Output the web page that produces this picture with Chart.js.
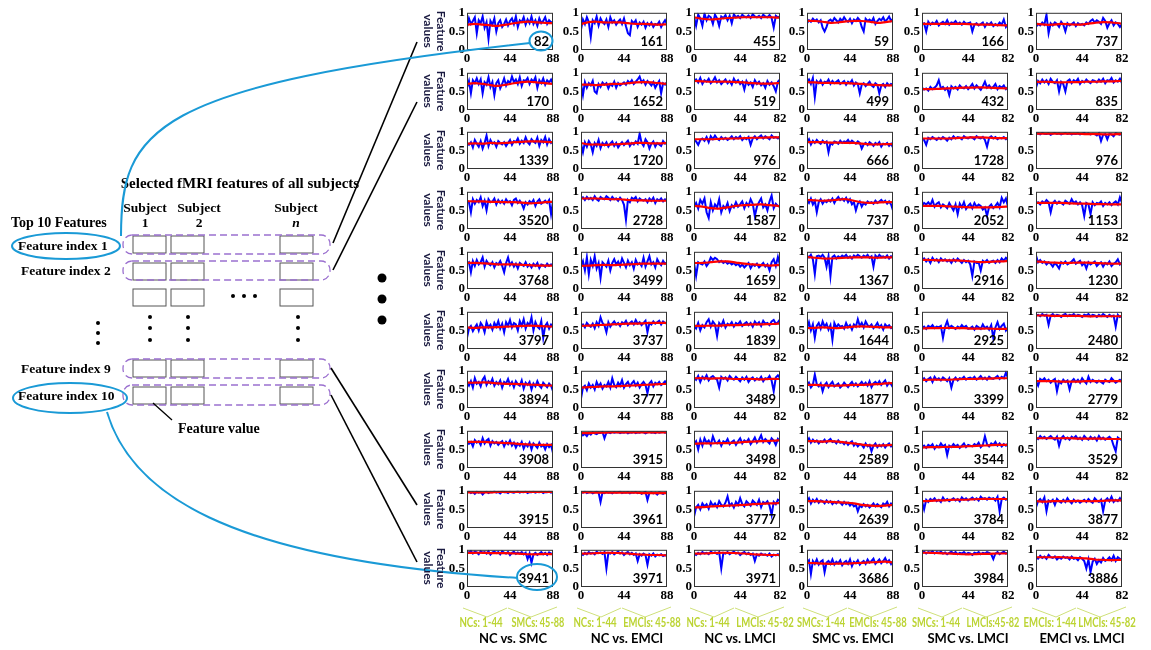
<!DOCTYPE html>
<html>
<head>
<meta charset="utf-8">
<script src="https://cdn.jsdelivr.net/npm/chart.js@4.4.0/dist/chart.umd.min.js"></script>
<style>
body { margin: 0; background: #fff; width: 1151px; height: 650px; overflow: hidden; position: relative; }
#charts canvas { position: absolute; }
#overlay { position: absolute; left: 0; top: 0; pointer-events: none; }
</style>
</head>
<body>
<div id="charts"></div>
<svg id="overlay" width="1151" height="650" xmlns="http://www.w3.org/2000/svg">
  <!-- left diagram -->
  <g font-family="Liberation Serif" font-weight="bold" fill="#000">
    <text x="240" y="188" font-size="15" text-anchor="middle">Selected fMRI features of all subjects</text>
    <text x="145" y="212" font-size="13.5" text-anchor="middle">Subject</text>
    <text x="145" y="227" font-size="13.5" text-anchor="middle">1</text>
    <text x="199" y="212" font-size="13.5" text-anchor="middle">Subject</text>
    <text x="199" y="227" font-size="13.5" text-anchor="middle">2</text>
    <text x="296" y="212" font-size="13.5" text-anchor="middle">Subject</text>
    <text x="296" y="227" font-size="13.5" text-anchor="middle" font-style="italic">n</text>
    <text x="11" y="227" font-size="14">Top 10 Features</text>
    <text x="18" y="250" font-size="13.5">Feature index 1</text>
    <text x="21" y="275" font-size="13.5">Feature index 2</text>
    <text x="21" y="373" font-size="13.5">Feature index 9</text>
    <text x="18" y="400" font-size="13.5">Feature index 10</text>
    <text x="178" y="433" font-size="14">Feature value</text>
  </g>
  <g fill="none" stroke="#555" stroke-width="1">
    <rect x="133" y="236" width="33" height="17"/><rect x="171" y="236" width="33" height="17"/><rect x="280" y="236" width="33" height="17"/>
    <rect x="133" y="263" width="33" height="17"/><rect x="171" y="263" width="33" height="17"/><rect x="280" y="263" width="33" height="17"/>
    <rect x="133" y="289" width="33" height="17"/><rect x="171" y="289" width="33" height="17"/><rect x="280" y="289" width="33" height="17"/>
    <rect x="133" y="360" width="33" height="17"/><rect x="171" y="360" width="33" height="17"/><rect x="280" y="360" width="33" height="17"/>
    <rect x="133" y="387" width="33" height="17"/><rect x="171" y="387" width="33" height="17"/><rect x="280" y="387" width="33" height="17"/>
  </g>
  <g fill="none" stroke="#9b70cf" stroke-width="1.3" stroke-dasharray="7,4">
    <rect x="123" y="235" width="207" height="19" rx="9"/>
    <rect x="123" y="261" width="207" height="19" rx="9"/>
    <rect x="123" y="359" width="207" height="19" rx="9"/>
    <rect x="123" y="385" width="207" height="20" rx="9"/>
  </g>
  <g fill="#000">
    <circle cx="233" cy="296" r="2"/><circle cx="244" cy="296" r="2"/><circle cx="255" cy="296" r="2"/>
    <circle cx="98" cy="323" r="2"/><circle cx="98" cy="333" r="2"/><circle cx="98" cy="343" r="2"/>
    <circle cx="150" cy="317" r="2"/><circle cx="150" cy="328" r="2"/><circle cx="150" cy="340" r="2"/>
    <circle cx="188" cy="317" r="2"/><circle cx="188" cy="328" r="2"/><circle cx="188" cy="340" r="2"/>
    <circle cx="298" cy="317" r="2"/><circle cx="298" cy="328" r="2"/><circle cx="298" cy="340" r="2"/>
    <circle cx="382" cy="278" r="4.5"/><circle cx="382" cy="299" r="4.5"/><circle cx="382" cy="320" r="4.5"/>
  </g>
  <g stroke="#000" stroke-width="1.6">
    <line x1="333" y1="243" x2="417" y2="42"/>
    <line x1="333" y1="270" x2="417" y2="102"/>
    <line x1="331" y1="368" x2="417" y2="505"/>
    <line x1="331" y1="395" x2="417" y2="562"/>
    <line x1="153" y1="403" x2="172" y2="420" stroke-width="1.3"/>
  </g>
  <g fill="none" stroke="#1a9ad6" stroke-width="2">
    <ellipse cx="66" cy="246" rx="54" ry="13"/>
    <ellipse cx="70" cy="398" rx="57" ry="15"/>
    <path d="M121,236 C121,130 150,85 530,43"/>
    <path d="M107,412 C130,490 220,560 518,578"/>
    <ellipse cx="541" cy="41" rx="11.5" ry="9.5"/>
    <ellipse cx="537" cy="577" rx="20" ry="13"/>
  </g>
  <g id="dyn"></g>
</svg>
<script>
// group (column) settings
const columnTitles = ['NC vs. SMC', 'NC vs. EMCI', 'NC vs. LMCI', 'SMC vs. EMCI', 'SMC vs. LMCI', 'EMCI vs. LMCI'];
const groupLabels = [
  ['NCs: 1-44', 'SMCs: 45-88'],
  ['NCs: 1-44', 'EMCIs: 45-88'],
  ['NCs: 1-44', 'LMCIs: 45-82'],
  ['SMCs: 1-44', 'EMCIs: 45-88'],
  ['SMCs: 1-44', 'LMCIs:45-82'],
  ['EMCIs: 1-44', 'LMCIs: 45-82']
];
const subjectCounts = [88, 88, 82, 88, 82, 82];
const featureIndex = [
  [82, 170, 1339, 3520, 3768, 3797, 3894, 3908, 3915, 3941],
  [161, 1652, 1720, 2728, 3499, 3737, 3777, 3915, 3961, 3971],
  [455, 519, 976, 1587, 1659, 1839, 3489, 3498, 3777, 3971],
  [59, 499, 666, 737, 1367, 1644, 1877, 2589, 2639, 3686],
  [166, 432, 1728, 2052, 2916, 2925, 3399, 3544, 3784, 3984],
  [737, 835, 976, 1153, 1230, 2480, 2779, 3529, 3877, 3886]
];

// feature values (blue), every 2nd subject
const blueNCvsSMC = [
  [.62,.85,.70,.78,.88,.45,.80,.72,.90,.60,.75,.30,.78,.68,.85,.50,.72,.80,.62,.70,.82,.66,.78,.85,.70,.90,.62,.80,.75,.88,.68,.82,.72,.90,.70,.80,.65,.85,.72,.78,.88,.70,.80,.75,.72],
  [.60,.78,.45,.80,.72,.85,.70,.82,.45,.75,.68,.88,.62,.75,.40,.72,.80,.58,.70,.85,.66,.78,.72,.90,.75,.82,.70,.88,.65,.80,.78,.86,.70,.82,.76,.88,.60,.80,.72,.85,.68,.80,.74,.82,.70],
  [.70,.65,.72,.58,.78,.68,.60,.75,.55,.70,.90,.62,.78,.68,.72,.60,.75,.70,.66,.72,.62,.70,.78,.65,.75,.72,.82,.68,.76,.70,.85,.72,.66,.80,.74,.70,.84,.62,.78,.72,.86,.66,.80,.70,.75],
  [.75,.72,.45,.80,.68,.78,.72,.85,.62,.76,.50,.80,.72,.74,.82,.66,.78,.70,.76,.68,.80,.72,.75,.64,.78,.82,.70,.76,.68,.55,.72,.66,.75,.70,.78,.62,.74,.80,.68,.72,.76,.70,.78,.40,.74],
  [.68,.72,.45,.75,.62,.78,.66,.72,.85,.60,.76,.68,.64,.72,.58,.70,.66,.75,.62,.45,.70,.85,.64,.72,.60,.68,.55,.70,.66,.62,.72,.60,.66,.58,.68,.62,.70,.56,.66,.64,.60,.68,.62,.66,.64],
  [.30,.55,.62,.48,.58,.66,.50,.70,.62,.45,.72,.58,.65,.52,.70,.60,.75,.55,.68,.45,.72,.62,.78,.58,.70,.66,.50,.75,.62,.80,.55,.70,.64,.85,.50,.72,.60,.55,.75,.30,.62,.70,.55,.66,.60],
  [.68,.60,.72,.55,.80,.65,.70,.58,.76,.84,.62,.72,.66,.78,.60,.70,.64,.74,.55,.70,.66,.78,.62,.70,.56,.72,.64,.60,.74,.52,.68,.62,.70,.50,.66,.58,.72,.60,.54,.68,.62,.56,.66,.60,.45],
  [.72,.65,.70,.58,.75,.68,.72,.62,.80,.66,.74,.78,.60,.72,.66,.70,.62,.68,.72,.58,.70,.64,.74,.60,.68,.55,.66,.60,.70,.52,.64,.58,.68,.50,.66,.60,.54,.68,.58,.62,.50,.64,.56,.62,.40],
  [.96,.98,.94,.97,.92,.98,.95,.97,.90,.96,.98,.94,.97,.96,.99,.95,.97,.93,.98,.96,.97,.94,.98,.96,.95,.97,.99,.95,.97,.96,.98,.94,.97,.96,.98,.95,.97,.96,.98,.94,.97,.96,.98,.95,.97],
  [.95,.92,.97,.90,.95,.93,.88,.96,.92,.94,.90,.96,.87,.93,.95,.91,.94,.88,.96,.92,.90,.94,.86,.92,.95,.89,.93,.90,.94,.88,.92,.75,.90,.65,.88,.92,.86,.90,.94,.88,.92,.86,.93,.90,.88]
];
const blueNCvsEMCI = [
  [.55,.82,.70,.88,.75,.35,.80,.72,.90,.66,.85,.75,.70,.82,.62,.88,.74,.80,.68,.76,.82,.70,.85,.64,.45,.40,.78,.72,.80,.62,.74,.68,.76,.60,.72,.66,.74,.62,.70,.68,.76,.62,.72,.80,.70],
  [.70,.40,.75,.60,.72,.66,.78,.50,.45,.70,.62,.74,.68,.72,.58,.70,.65,.76,.60,.72,.66,.70,.74,.68,.78,.72,.80,.70,.76,.82,.90,.74,.80,.68,.78,.72,.66,.75,.60,.70,.78,.45,.72,.68,.75],
  [.68,.45,.72,.60,.75,.66,.45,.70,.62,.78,.56,.70,.64,.72,.60,.68,.74,.62,.70,.58,.66,.72,.64,.70,.76,.62,.70,.66,.74,.68,.95,.70,.62,.80,.72,.55,.68,.74,.60,.70,.66,.62,.75,.68,.72],
  [.82,.85,.78,.86,.80,.84,.78,.88,.80,.76,.86,.82,.80,.88,.84,.78,.86,.80,.82,.76,.84,.78,.65,.25,.78,.72,.84,.80,.86,.74,.82,.78,.76,.80,.72,.82,.76,.84,.70,.80,.76,.82,.74,.80,.76],
  [.62,.75,.50,.85,.40,.78,.62,.88,.55,.70,.30,.72,.66,.60,.76,.50,.70,.80,.66,.74,.62,.82,.70,.58,.76,.64,.72,.55,.78,.66,.70,.62,.84,.60,.74,.88,.66,.72,.58,.80,.70,.64,.76,.68,.72],
  [.62,.66,.58,.70,.64,.60,.68,.56,.72,.62,.85,.70,.64,.45,.72,.60,.68,.74,.66,.70,.62,.72,.68,.76,.64,.70,.74,.66,.78,.68,.72,.64,.70,.76,.45,.70,.66,.74,.68,.72,.76,.66,.74,.70,.68],
  [.25,.55,.60,.48,.66,.55,.62,.50,.70,.58,.66,.52,.62,.58,.70,.55,.80,.62,.56,.68,.60,.75,.55,.64,.70,.58,.66,.72,.60,.68,.55,.64,.70,.62,.40,.66,.72,.58,.68,.64,.70,.62,.66,.72,.65],
  [.95,.88,.92,.86,.94,.90,.96,.93,.91,.95,.94,.97,.80,.95,.96,.94,.97,.95,.96,.97,.94,.96,.95,.97,.93,.96,.95,.97,.94,.96,.95,.97,.96,.93,.96,.97,.95,.96,.94,.97,.95,.96,.97,.95,.96],
  [.97,.95,.98,.94,.96,.97,.93,.96,.98,.95,.70,.96,.94,.97,.95,.96,.93,.97,.95,.96,.98,.94,.96,.95,.97,.93,.96,.95,.97,.94,.96,.92,.95,.97,.75,.94,.96,.93,.95,.90,.96,.94,.92,.95,.93],
  [.90,.86,.92,.88,.94,.90,.92,.88,.95,.91,.93,.89,.94,.50,.92,.90,.94,.88,.92,.95,.90,.93,.86,.91,.94,.88,.92,.86,.90,.70,.88,.84,.90,.86,.60,.88,.84,.90,.82,.87,.85,.88,.83,.86,.84]
];
const blueNCvsLMCI = [
  [.90,.65,.95,.85,.65,.98,.80,.92,.88,.70,.95,.85,.65,.90,.86,.94,.80,.92,.72,.96,.88,.92,.86,.95,.90,.88,.93,.86,.96,.90,.88,.92,.86,.95,.90,.88,.94,.86,.60,.92,.88,.90],
  [.78,.82,.74,.86,.70,.80,.76,.84,.72,.78,.88,.74,.80,.70,.76,.82,.72,.78,.68,.84,.74,.80,.70,.76,.55,.78,.68,.74,.62,.80,.70,.76,.66,.72,.60,.78,.68,.74,.64,.50,.76,.82],
  [.80,.74,.65,.78,.82,.76,.86,.72,.88,.80,.90,.82,.78,.86,.80,.84,.78,.82,.88,.80,.86,.82,.88,.78,.84,.80,.86,.65,.82,.88,.80,.86,.90,.82,.88,.84,.80,.90,.84,.86,.82,.88],
  [.60,.70,.55,.78,.68,.82,.45,.30,.72,.50,.66,.58,.80,.45,.62,.55,.70,.48,.64,.58,.72,.60,.66,.74,.56,.70,.62,.80,.68,.35,.60,.72,.82,.58,.66,.50,.74,.90,.56,.68,.62,.60],
  [.70,.35,.72,.68,.66,.74,.62,.70,.85,.78,.84,.80,.72,.76,.70,.74,.68,.72,.66,.70,.64,.68,.60,.66,.58,.64,.70,.56,.66,.62,.68,.58,.64,.70,.60,.66,.50,.72,.80,.62,.86,.64],
  [.62,.55,.70,.50,.64,.58,.72,.80,.60,.74,.66,.35,.70,.62,.76,.58,.68,.64,.72,.60,.70,.66,.74,.62,.68,.72,.64,.70,.60,.74,.66,.72,.62,.76,.68,.70,.64,.74,.78,.68,.72,.80],
  [.82,.76,.86,.70,.84,.78,.88,.74,.82,.86,.80,.76,.55,.84,.78,.82,.74,.86,.80,.76,.84,.78,.72,.82,.76,.84,.70,.78,.82,.74,.80,.76,.84,.72,.80,.78,.86,.74,.45,.82,.88,.80],
  [.65,.72,.50,.76,.60,.80,.68,.74,.62,.85,.70,.66,.74,.60,.72,.68,.78,.64,.70,.74,.62,.72,.80,.66,.74,.70,.78,.64,.72,.82,.68,.76,.88,.70,.78,.72,.66,.80,.74,.62,.78,.72],
  [.30,.55,.62,.50,.66,.58,.64,.52,.70,.60,.66,.56,.72,.62,.58,.68,.85,.60,.66,.55,.70,.62,.80,.64,.58,.72,.66,.60,.74,.68,.62,.76,.56,.70,.66,.72,.60,.35,.70,.64,.76,.72],
  [.90,.86,.92,.88,.94,.90,.92,.88,.95,.91,.93,.89,.94,.50,.92,.90,.94,.88,.92,.95,.90,.93,.86,.91,.94,.88,.92,.86,.90,.70,.88,.84,.90,.86,.88,.84,.90,.82,.87,.85,.88,.83]
];
const blueSMCvsEMCI = [
  [.72,.80,.76,.84,.78,.82,.74,.80,.60,.50,.62,.78,.82,.76,.86,.80,.74,.84,.78,.88,.80,.76,.84,.72,.82,.78,.86,.80,.62,.50,.84,.78,.82,.76,.86,.70,.78,.84,.80,.88,.76,.82,.90,.78,.84],
  [.75,.82,.70,.86,.35,.78,.72,.80,.68,.76,.74,.82,.70,.78,.72,.76,.80,.70,.74,.78,.68,.76,.72,.80,.66,.74,.70,.45,.68,.72,.64,.70,.76,.66,.62,.72,.68,.45,.66,.70,.62,.72,.66,.70,.68],
  [.72,.80,.66,.76,.70,.78,.72,.68,.76,.70,.74,.45,.70,.66,.74,.72,.68,.76,.70,.74,.72,.78,.70,.76,.72,.68,.74,.70,.55,.66,.70,.64,.72,.68,.62,.70,.66,.72,.60,.68,.66,.70,.62,.68,.58],
  [.78,.70,.82,.66,.76,.45,.72,.80,.68,.76,.72,.78,.74,.82,.70,.80,.86,.78,.82,.76,.84,.72,.80,.66,.72,.50,.68,.74,.60,.70,.66,.74,.70,.72,.68,.76,.70,.74,.78,.72,.76,.68,.74,.66,.50],
  [.90,.85,.92,.80,.40,.88,.90,.86,.92,.84,.60,.88,.35,.86,.90,.82,.88,.84,.90,.86,.92,.84,.88,.82,.90,.86,.92,.88,.84,.90,.86,.92,.84,.88,.60,.90,.84,.92,.86,.88,.84,.90,.82,.88,.86],
  [.55,.72,.50,.66,.30,.62,.70,.55,.74,.60,.68,.52,.64,.25,.70,.58,.66,.60,.62,.55,.70,.58,.64,.52,.66,.60,.80,.62,.70,.58,.74,.64,.60,.66,.56,.62,.70,.58,.64,.52,.66,.60,.64,.56,.60],
  [.60,.68,.55,.62,.90,.64,.58,.66,.45,.62,.68,.56,.64,.70,.58,.62,.66,.55,.60,.68,.62,.56,.64,.70,.60,.66,.58,.64,.70,.62,.68,.60,.72,.56,.66,.70,.64,.72,.62,.68,.74,.60,.68,.64,.55],
  [.72,.80,.68,.76,.70,.74,.66,.72,.70,.76,.68,.74,.78,.70,.72,.66,.74,.68,.70,.64,.70,.62,.68,.72,.60,.66,.58,.64,.62,.55,.66,.58,.62,.45,.60,.66,.56,.62,.58,.64,.55,.62,.66,.58,.64],
  [.72,.80,.66,.76,.70,.78,.68,.74,.72,.66,.74,.68,.72,.64,.70,.66,.72,.68,.62,.70,.64,.68,.60,.66,.58,.62,.45,.60,.56,.64,.58,.62,.55,.60,.66,.58,.64,.60,.56,.66,.62,.70,.58,.66,.62],
  [.66,.72,.35,.70,.62,.74,.60,.68,.72,.40,.66,.70,.62,.74,.60,.68,.64,.72,.58,.66,.70,.62,.74,.56,.68,.64,.72,.60,.66,.70,.62,.74,.66,.70,.76,.62,.68,.74,.64,.70,.78,.66,.72,.62,.70]
];
const blueSMCvsLMCI = [
  [.70,.72,.50,.76,.68,.74,.70,.78,.66,.72,.76,.70,.80,.68,.74,.72,.78,.70,.74,.68,.76,.70,.72,.74,.50,.68,.72,.66,.70,.74,.62,.72,.68,.74,.64,.70,.66,.74,.68,.82,.62,.70],
  [.60,.55,.58,.52,.62,.56,.60,.66,.80,.58,.62,.54,.60,.40,.64,.58,.62,.55,.66,.60,.58,.64,.56,.62,.70,.58,.66,.60,.54,.64,.76,.60,.66,.58,.62,.70,.56,.64,.60,.66,.56,.62],
  [.82,.78,.65,.84,.80,.86,.82,.78,.84,.80,.86,.82,.76,.84,.80,.88,.82,.86,.84,.80,.88,.84,.82,.86,.84,.80,.88,.84,.82,.86,.78,.60,.84,.88,.82,.86,.80,.84,.82,.86,.80,.84],
  [.62,.70,.66,.72,.64,.78,.60,.68,.72,.58,.66,.62,.56,.70,.60,.50,.66,.40,.68,.58,.72,.54,.62,.68,.56,.70,.60,.66,.62,.52,.58,.35,.60,.66,.56,.62,.70,.58,.84,.72,.82,.60],
  [.78,.82,.74,.80,.70,.84,.76,.80,.72,.82,.76,.80,.74,.78,.70,.80,.74,.82,.76,.70,.78,.72,.76,.66,.35,.74,.70,.72,.50,.76,.72,.78,.70,.74,.76,.70,.78,.72,.82,.76,.84,.78],
  [.56,.60,.54,.62,.58,.64,.56,.60,.58,.62,.30,.60,.75,.56,.62,.58,.54,.60,.56,.64,.58,.62,.54,.56,.60,.52,.62,.58,.54,.66,.56,.60,.52,.64,.30,.58,.72,.54,.62,.68,.50,.58],
  [.75,.80,.72,.78,.82,.70,.84,.76,.80,.74,.82,.78,.72,.80,.55,.76,.82,.74,.80,.78,.84,.76,.80,.82,.78,.84,.76,.80,.86,.78,.82,.76,.84,.80,.78,.82,.86,.78,.84,.80,.95,.80],
  [.56,.60,.54,.62,.58,.64,.52,.60,.56,.66,.58,.62,.35,.60,.56,.64,.58,.62,.54,.60,.66,.56,.62,.60,.58,.64,.60,.68,.56,.62,.85,.64,.58,.66,.62,.70,.60,.66,.58,.64,.60,.66],
  [.72,.50,.76,.70,.78,.74,.80,.72,.76,.70,.82,.74,.78,.72,.76,.80,.74,.78,.72,.82,.76,.80,.74,.78,.82,.76,.80,.74,.84,.78,.80,.76,.82,.78,.80,.74,.84,.45,.78,.82,.76,.80],
  [.92,.95,.90,.94,.92,.96,.90,.94,.92,.95,.90,.93,.88,.92,.95,.90,.94,.88,.92,.90,.94,.88,.92,.90,.86,.92,.90,.94,.88,.92,.90,.94,.92,.88,.75,.90,.94,.88,.92,.95,.90,.92]
];
const blueEMCIvsLMCI = [
  [.62,.70,.66,.74,.68,.95,.45,.72,.66,.74,.70,.62,.76,.68,.50,.72,.66,.70,.74,.64,.72,.68,.70,.66,.74,.70,.78,.82,.74,.80,.76,.70,.86,.78,.60,.72,.80,.66,.74,.70,.62,.70],
  [.60,.78,.72,.82,.74,.80,.70,.84,.76,.72,.80,.50,.76,.70,.50,.78,.82,.72,.80,.76,.84,.70,.78,.74,.82,.76,.72,.80,.78,.74,.82,.76,.84,.72,.80,.78,.86,.74,.80,.76,.84,.72],
  [.94,.96,.93,.97,.95,.94,.96,.92,.95,.97,.94,.96,.93,.95,.97,.94,.96,.93,.95,.94,.96,.93,.95,.97,.94,.96,.93,.95,.94,.90,.96,.75,.92,.94,.80,.95,.93,.88,.96,.94,.92,.95],
  [.68,.72,.66,.74,.70,.78,.72,.45,.70,.76,.68,.74,.70,.66,.76,.72,.68,.80,.70,.74,.66,.72,.64,.35,.70,.66,.40,.72,.64,.70,.68,.74,.62,.70,.66,.72,.64,.70,.74,.66,.85,.70],
  [.90,.72,.78,.70,.74,.66,.72,.68,.60,.70,.64,.55,.72,.68,.74,.66,.70,.74,.80,.68,.72,.76,.64,.70,.55,.72,.66,.70,.74,.62,.68,.72,.60,.70,.66,.74,.62,.68,.72,.80,.66,.72],
  [.90,.92,.88,.94,.90,.92,.65,.90,.94,.88,.92,.90,.86,.92,.94,.88,.92,.90,.94,.88,.92,.90,.86,.92,.90,.94,.88,.92,.90,.86,.92,.88,.94,.90,.86,.92,.88,.90,.60,.92,.86,.90],
  [.72,.60,.78,.74,.80,.72,.76,.68,.74,.78,.45,.72,.66,.76,.70,.74,.50,.72,.78,.70,.76,.68,.80,.72,.66,.84,.70,.76,.72,.68,.74,.70,.66,.76,.72,.70,.80,.74,.68,.72,.76,.70],
  [.82,.78,.86,.80,.84,.78,.82,.86,.80,.76,.84,.60,.80,.86,.78,.82,.76,.84,.80,.86,.78,.82,.76,.86,.80,.76,.84,.78,.82,.74,.86,.78,.82,.76,.80,.84,.78,.60,.45,.82,.78,.74],
  [.55,.72,.78,.70,.82,.45,.74,.70,.76,.62,.78,.72,.68,.76,.70,.80,.72,.66,.76,.70,.74,.68,.72,.76,.70,.78,.72,.68,.80,.74,.70,.76,.45,.74,.80,.72,.84,.70,.76,.72,.80,.70],
  [.80,.76,.84,.78,.82,.76,.86,.80,.78,.82,.74,.80,.76,.82,.78,.80,.74,.82,.76,.78,.72,.80,.76,.70,.50,.74,.40,.68,.76,.62,.72,.66,.78,.70,.74,.80,.72,.84,.70,.80,.76,.72]
];

// smoothed values (red), every 8th subject
const redNCvsSMC = [
  [.68,.70,.68,.66,.65,.68,.72,.75,.76,.74,.73,.72],
  [.70,.72,.70,.67,.65,.68,.72,.75,.76,.74,.72,.70],
  [.68,.69,.68,.70,.69,.70,.72,.73,.74,.74,.73,.72],
  [.75,.74,.74,.73,.73,.72,.72,.71,.69,.70,.72,.73],
  [.70,.70,.69,.68,.66,.66,.66,.65,.64,.63,.63,.63],
  [.58,.57,.58,.58,.59,.60,.61,.62,.63,.62,.61,.60],
  [.68,.68,.69,.68,.66,.65,.65,.64,.63,.62,.61,.60],
  [.70,.70,.70,.69,.68,.67,.66,.64,.63,.62,.62,.62],
  [.96,.96,.96,.96,.97,.97,.97,.97,.97,.97,.97,.97],
  [.92,.92,.92,.91,.91,.91,.90,.89,.88,.88,.89,.88]
];
const redNCvsEMCI = [
  [.70,.75,.76,.74,.74,.74,.72,.70,.70,.69,.68,.69],
  [.68,.68,.67,.68,.70,.70,.72,.74,.75,.74,.72,.70],
  [.70,.66,.66,.65,.66,.67,.68,.70,.70,.69,.69,.70],
  [.82,.82,.82,.81,.80,.80,.78,.77,.77,.76,.76,.76],
  [.62,.63,.64,.65,.64,.65,.66,.67,.68,.68,.68,.68],
  [.62,.63,.64,.65,.66,.67,.68,.68,.69,.70,.70,.70],
  [.55,.56,.57,.58,.58,.59,.60,.61,.62,.63,.64,.65],
  [.94,.94,.95,.95,.96,.96,.96,.96,.96,.96,.96,.96],
  [.96,.96,.95,.95,.95,.95,.95,.95,.94,.94,.94,.94],
  [.90,.90,.91,.92,.92,.91,.90,.88,.87,.86,.86,.85]
];
const redNCvsLMCI = [
  [.88,.84,.82,.84,.86,.87,.88,.88,.88,.88,.87,.88],
  [.78,.77,.76,.76,.76,.75,.74,.72,.71,.71,.72,.72],
  [.80,.80,.80,.81,.82,.82,.83,.84,.84,.85,.85,.85],
  [.62,.60,.56,.55,.58,.62,.64,.65,.66,.64,.62,.60],
  [.70,.70,.72,.74,.74,.71,.68,.66,.64,.63,.64,.65],
  [.62,.62,.63,.63,.64,.64,.65,.66,.66,.67,.68,.70],
  [.80,.80,.79,.80,.79,.78,.78,.78,.77,.78,.78,.78],
  [.65,.66,.66,.67,.67,.68,.70,.71,.72,.73,.74,.75],
  [.55,.56,.58,.59,.60,.61,.62,.64,.65,.66,.67,.68],
  [.90,.90,.91,.92,.92,.91,.90,.88,.87,.86,.86,.85]
];
const redSMCvsEMCI = [
  [.78,.78,.76,.73,.74,.77,.78,.78,.76,.73,.75,.78],
  [.75,.74,.73,.73,.72,.72,.71,.70,.68,.67,.66,.66],
  [.72,.72,.72,.71,.71,.70,.70,.68,.66,.66,.67,.67],
  [.78,.77,.76,.77,.79,.80,.76,.72,.70,.71,.72,.72],
  [.86,.84,.82,.82,.83,.84,.85,.85,.85,.84,.85,.85],
  [.56,.57,.58,.57,.56,.58,.60,.61,.60,.59,.58,.58],
  [.62,.62,.61,.60,.60,.61,.62,.62,.63,.64,.66,.67],
  [.72,.72,.71,.72,.71,.68,.66,.63,.61,.60,.61,.62],
  [.72,.72,.71,.70,.69,.68,.66,.62,.60,.59,.60,.62],
  [.65,.64,.63,.62,.63,.63,.64,.65,.66,.67,.68,.66]
];
const redSMCvsLMCI = [
  [.70,.70,.70,.70,.70,.70,.69,.68,.68,.67,.66,.66],
  [.56,.56,.57,.58,.59,.60,.60,.61,.60,.59,.58,.58],
  [.82,.82,.82,.82,.83,.84,.85,.85,.84,.83,.83,.82],
  [.62,.62,.62,.61,.60,.59,.58,.58,.58,.59,.60,.60],
  [.78,.78,.77,.77,.77,.76,.74,.72,.73,.74,.75,.76],
  [.55,.56,.56,.57,.56,.56,.55,.55,.55,.54,.54,.55],
  [.75,.76,.76,.76,.77,.78,.78,.79,.79,.80,.80,.80],
  [.55,.56,.56,.57,.57,.58,.59,.60,.61,.62,.62,.62],
  [.72,.73,.74,.75,.76,.76,.77,.78,.78,.78,.78,.78],
  [.92,.92,.91,.90,.89,.88,.88,.89,.89,.90,.90,.90]
];
const redEMCIvsLMCI = [
  [.70,.68,.68,.70,.69,.68,.70,.73,.75,.74,.72,.70],
  [.75,.76,.75,.74,.75,.75,.76,.76,.77,.77,.78,.78],
  [.95,.95,.95,.95,.95,.95,.94,.94,.93,.93,.94,.94],
  [.70,.70,.70,.70,.69,.68,.68,.67,.67,.66,.66,.66],
  [.74,.72,.71,.70,.70,.71,.71,.70,.69,.68,.68,.68],
  [.90,.90,.89,.89,.89,.89,.88,.88,.88,.88,.88,.88],
  [.72,.72,.72,.71,.71,.71,.72,.72,.72,.72,.72,.71],
  [.80,.80,.80,.80,.80,.79,.79,.79,.79,.78,.78,.78],
  [.72,.71,.72,.72,.72,.73,.72,.72,.73,.74,.74,.74],
  [.80,.80,.80,.80,.79,.78,.77,.74,.73,.72,.73,.73]
];

const blueSeries = [blueNCvsSMC, blueNCvsEMCI, blueNCvsLMCI, blueSMCvsEMCI, blueSMCvsLMCI, blueEMCIvsLMCI];
const redSeries = [redNCvsSMC, redNCvsEMCI, redNCvsLMCI, redSMCvsEMCI, redSMCvsLMCI, redEMCIvsLMCI];
const yTickValues = [0, 0.5, 1];

// layout
const colLeft = [467, 581, 694, 807, 922, 1036];
const plotW = 86, plotH = 39, padL = 30, padT = 8, padR = 10, padB = 16;
function rowTop(r) { return Math.round(11 + r * 59.7); }

const tickFont = { family: '"Liberation Serif", "Times New Roman", serif', weight: 'bold', size: 13 };

const framePlugin = {
    id: 'frame',
    afterDraw(chart, args, opts) {
        const a = chart.chartArea, ctx = chart.ctx;
        ctx.save();
        ctx.strokeStyle = '#333';
        ctx.lineWidth = 1;
        ctx.strokeRect(a.left + 0.5, a.top + 0.5, a.right - a.left - 1, a.bottom - a.top - 1);
        ctx.fillStyle = '#000';
        ctx.font = 'bold 13px Lato';
        ctx.textAlign = 'right';
        ctx.textBaseline = 'alphabetic';
        ctx.fillText(opts.label, a.right - 4, a.bottom - 4);
        ctx.restore();
    }
};

function buildCharts() {
    const container = document.getElementById('charts');
    for (let c = 0; c < 6; c++) {
        const xMax = subjectCounts[c];
        for (let r = 0; r < 10; r++) {
            const canvas = document.createElement('canvas');
            canvas.width = padL + plotW + padR;
            canvas.height = padT + plotH + padB;
            canvas.style.left = (colLeft[c] - padL) + 'px';
            canvas.style.top = (rowTop(r) - padT) + 'px';
            container.appendChild(canvas);

            const blue = blueSeries[c][r].map((v, i) => ({x: Math.min(i * 2, xMax), y: v}));
            const red = redSeries[c][r].map((v, i) => ({x: Math.min(i * 8, xMax), y: v}));

            new Chart(canvas, {
                type: 'line',
                data: {
                    datasets: [
                        {data: red, borderColor: '#ff0000', borderWidth: 2.2, pointRadius: 0, tension: 0.3},
                        {data: blue, borderColor: '#0000ff', borderWidth: 2, pointRadius: 0, tension: 0}
                    ]
                },
                options: {
                    responsive: false,
                    animation: false,
                    devicePixelRatio: 1,
                    layout: {padding: {top: padT, right: padR, left: 0, bottom: 0}},
                    plugins: {
                        legend: {display: false},
                        tooltip: {enabled: false},
                        frame: {label: String(featureIndex[c][r])}
                    },
                    scales: {
                        x: {
                            type: 'linear', min: 0, max: xMax,
                            afterBuildTicks: s => { s.ticks = [0, 44, xMax].map(v => ({value: v})); },
                            afterFit: s => { s.height = padB; },
                            grid: {display: false, drawTicks: false},
                            border: {display: false},
                            ticks: {font: tickFont, color: '#000', padding: 1, maxRotation: 0, autoSkip: false}
                        },
                        y: {
                            min: 0, max: 1,
                            afterBuildTicks: s => { s.ticks = yTickValues.map(v => ({value: v})); },
                            afterFit: s => { s.width = padL; },
                            grid: {display: false, drawTicks: false},
                            border: {display: false},
                            ticks: {font: tickFont, color: '#000', padding: 2, callback: v => String(v)}
                        }
                    }
                },
                plugins: [framePlugin]
            });
        }
    }
}

// labels drawn on the overlay
const NS = 'http://www.w3.org/2000/svg';
const dyn = document.getElementById('dyn');
function el(tag, attrs, text) {
    const e = document.createElementNS(NS, tag);
    for (const k in attrs) e.setAttribute(k, attrs[k]);
    if (text !== undefined) e.textContent = text;
    dyn.appendChild(e);
    return e;
}
for (let r = 0; r < 10; r++) {
    const cy = rowTop(r) + 20;
    el('text', {x: 0, y: 0, transform: `translate(440,${cy}) rotate(90)`, 'text-anchor': 'middle', 'dominant-baseline': 'middle',
        'font-family': 'Lato', 'font-weight': 'bold', 'font-size': 12, fill: '#1a1a40'}, 'Feature');
    el('text', {x: 0, y: 0, transform: `translate(427,${cy}) rotate(90)`, 'text-anchor': 'middle', 'dominant-baseline': 'middle',
        'font-family': 'Lato', 'font-weight': 'bold', 'font-size': 12, fill: '#1a1a40'}, 'values');
}
for (let c = 0; c < 6; c++) {
    const L = colLeft[c];
    el('polyline', {points: `${L - 4},608 ${L + 20},617 ${L + 40},608`, fill: 'none', stroke: '#cfe07a', 'stroke-width': 1});
    el('polyline', {points: `${L + 41},608 ${L + 64},617 ${L + 90},607`, fill: 'none', stroke: '#cfe07a', 'stroke-width': 1});
    const [a, b] = groupLabels[c];
    el('text', {x: L + 14, y: 627, 'text-anchor': 'middle', 'font-family': 'Lato', 'font-weight': 'bold', 'font-size': 12.5,
        textLength: a.length * 4.8, lengthAdjust: 'spacingAndGlyphs', fill: '#bcd434'}, a);
    el('text', {x: L + 71, y: 627, 'text-anchor': 'middle', 'font-family': 'Lato', 'font-weight': 'bold', 'font-size': 12.5,
        textLength: b.length * 4.8, lengthAdjust: 'spacingAndGlyphs', fill: '#bcd434'}, b);
    el('text', {x: L + 46, y: 643, 'text-anchor': 'middle', 'font-family': 'Lato', 'font-weight': 'bold', 'font-size': 13, fill: '#000'}, columnTitles[c]);
}

Promise.all([
    document.fonts.load('bold 13px "Liberation Serif"'),
    document.fonts.load('bold 13px Lato')
]).then(buildCharts, buildCharts);
</script>
</body>
</html>
